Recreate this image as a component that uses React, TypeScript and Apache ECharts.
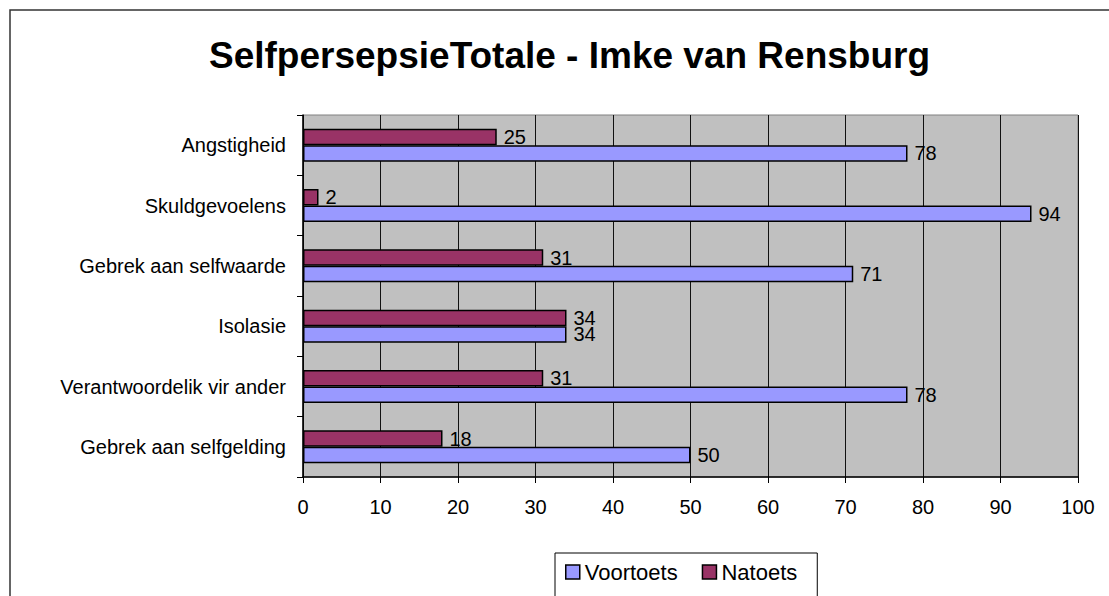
import React, { useEffect, useRef } from "react";
import * as echarts from "echarts";

const titleText = "SelfpersepsieTotale - Imke van Rensburg";
const categories = [
  "Angstigheid",
  "Skuldgevoelens",
  "Gebrek aan selfwaarde",
  "Isolasie",
  "Verantwoordelik vir ander",
  "Gebrek aan selfgelding",
];
const voortoets = [78, 94, 71, 34, 78, 50];
const natoets = [25, 2, 31, 34, 31, 18];
const seriesNames = ["Voortoets", "Natoets"];
const xMin = 0;
const xMax = 100;
const xInterval = 10;

const FONT = "'Liberation Sans', Arial, sans-serif";

export default function App() {
  const ref = useRef<HTMLDivElement>(null);
  useEffect(() => {
    if (!ref.current) return;
    const chart = echarts.init(ref.current, undefined, { renderer: "svg" });
    const labelStyle = {
      show: true,
      position: "right" as const,
      distance: 7,
      color: "#000",
      fontSize: 20,
      lineHeight: 16,
      fontFamily: FONT,
    };
    chart.setOption({
      animation: false,
      backgroundColor: "#fff",
      textStyle: { fontFamily: FONT },
      title: {
        text: titleText,
        left: 204,
        top: 32,
        textStyle: { fontSize: 37, fontWeight: "bold", color: "#000", fontFamily: FONT },
      },
      graphic: [
        {
          type: "rect",
          shape: { x: 10, y: 10, width: 1130, height: 640 },
          style: { fill: "none", stroke: "#333", lineWidth: 1.5 },
          silent: true,
          z: 100,
        },
      ],
      legend: {
        data: seriesNames,
        left: 555,
        top: 553,
        orient: "horizontal",
        padding: [8, 20, 40, 10],
        itemGap: 24,
        itemWidth: 14,
        itemHeight: 14,
        icon: "rect",
        borderColor: "#000",
        borderWidth: 1,
        backgroundColor: "#fff",
        itemStyle: { borderColor: "#000", borderWidth: 1.5 },
        textStyle: { fontSize: 22, color: "#000", fontFamily: FONT, lineHeight: 22 },
      },
      grid: {
        left: 303,
        top: 115,
        right: 31,
        bottom: 119,
        containLabel: false,
        show: true,
        backgroundColor: "#C0C0C0",
        borderColor: "#808080",
        borderWidth: 1,
      },
      xAxis: {
        type: "value",
        min: xMin,
        max: xMax,
        interval: xInterval,
        axisLine: { show: true, lineStyle: { color: "#000", width: 1.5 } },
        axisTick: { show: true, length: 6, lineStyle: { color: "#000", width: 1 } },
        axisLabel: { fontSize: 20, color: "#000", margin: 20, fontFamily: FONT },
        splitLine: { show: true, lineStyle: { color: "#111", width: 1 } },
      },
      yAxis: {
        type: "category",
        data: categories,
        inverse: true,
        axisLine: { show: true, lineStyle: { color: "#000", width: 1.5 } },
        axisTick: { show: true, length: 6, lineStyle: { color: "#000", width: 1 } },
        axisLabel: { fontSize: 20, color: "#000", margin: 17, fontFamily: FONT },
        splitLine: { show: false },
      },
      series: [
        {
          name: seriesNames[1],
          type: "bar",
          data: natoets,
          barWidth: 16.5,
          barGap: "0%",
          itemStyle: { color: "#993366", borderColor: "#000", borderWidth: 1.5 },
          label: labelStyle,
        },
        {
          name: seriesNames[0],
          type: "bar",
          data: voortoets,
          barWidth: 16.5,
          barGap: "0%",
          itemStyle: { color: "#9999FF", borderColor: "#000", borderWidth: 1.5 },
          label: labelStyle,
        },
      ],
    });
    return () => chart.dispose();
  }, []);
  return (
    <div
      ref={ref}
      style={{ position: "fixed", left: 0, top: 0, width: 1109, height: 596 }}
    />
  );
}
